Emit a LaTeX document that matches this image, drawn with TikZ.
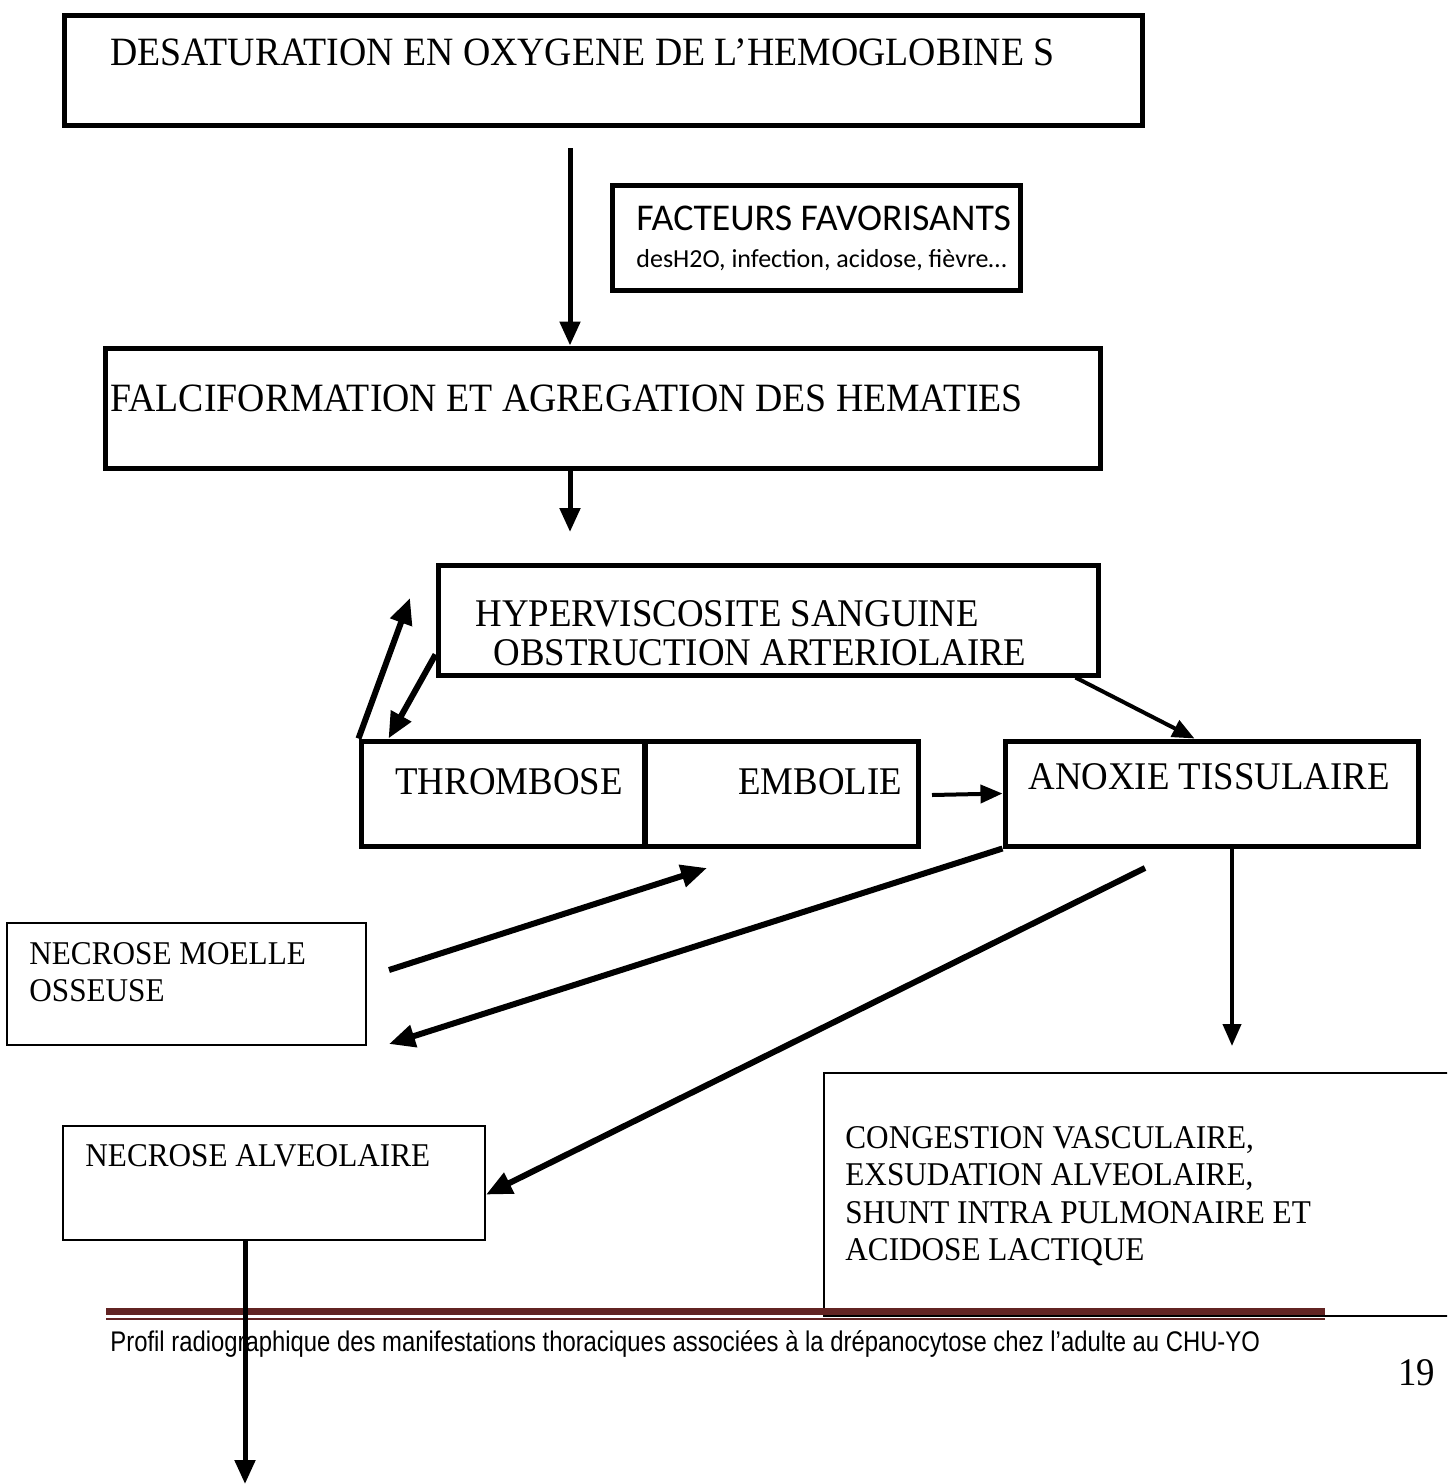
\documentclass[tikz,border=0pt]{standalone}
\usepackage{fontspec}
\setmainfont{Liberation Serif}
\newfontfamily\timesfont[FakeStretch=0.94]{Liberation Serif}
\newfontfamily\calibrifont{Carlito}
\newfontfamily\footerfont[FakeStretch=0.84]{Liberation Sans}
\usetikzlibrary{arrows.meta, positioning, calc}
\definecolor{footred}{HTML}{622423}

\tikzset{
  heavybox/.style={draw, line width=2.5pt, inner sep=0pt},
  lightbox/.style={draw, line width=1pt, inner sep=0pt},
  boxtext/.style={inner sep=0pt, anchor=west, align=left, font=\timesfont\fontsize{19.6}{19.5}\selectfont},
  titletext/.style={boxtext, font=\timesfont\fontsize{20.1}{22}\selectfont},
  smalltext/.style={boxtext, font=\timesfont\fontsize{16.6}{18.75}\selectfont},
  flow/.style={line width=2.5pt, -{Triangle[length=12pt, width=10pt]}},
  heavyflow/.style={line width=3pt, -{Triangle[length=13pt, width=11pt]}},
  thinflow/.style={line width=2pt, -{Triangle[length=11pt, width=9pt]}},
}

\begin{document}
\begin{tikzpicture}[x=0.5pt, y=-0.5pt]
  \clip (0,0) rectangle (1447,1484);
  \fill[white] (0,0) rectangle (1447,1484);

  \node[heavybox, minimum width=539pt, minimum height=55pt] (desat) at (603,70) {};
  \node[heavybox, minimum width=204pt, minimum height=52.5pt] (facteurs) at (816,237.5) {};
  \node[heavybox, minimum width=497.5pt, minimum height=60pt] (falci) at (602.5,408) {};
  \node[heavybox, minimum width=330pt, minimum height=55pt] (hyper) at (768,620) {};
  \node[heavybox, minimum width=142pt, minimum height=52.5pt] (thrombose) at (503,793.5) {};
  \node[heavybox, minimum width=137pt, minimum height=52.5pt] (embolie) at (781.5,793.5) {};
  \node[heavybox, minimum width=206.5pt, minimum height=52.5pt] (anoxie) at (1211.5,793.5) {};
  \node[lightbox, minimum width=179.5pt, minimum height=61pt] (moelle) at (186.5,984) {};
  \node[lightbox, minimum width=211pt, minimum height=57pt] (alveo) at (274,1183) {};
  \node[lightbox, minimum width=320pt, minimum height=121.5pt] (congestion) at (1144,1194.5) {};

  \node[titletext] (desattxt) at (110,52) {DESATURATION EN OXYGENE DE L’HEMOGLOBINE S};
  \node[boxtext, font=\calibrifont\fontsize{18.9}{21}\selectfont] (facttitle) at (636,218) {FACTEURS FAVORISANTS};
  \node[boxtext, font=\calibrifont\fontsize{13}{15}\selectfont] (factlist) at (636,260) {desH2O, infection, acidose, fièvre…};
  \node[titletext] (falcitxt) at (110,398) {FALCIFORMATION ET AGREGATION DES HEMATIES};
  \node[boxtext] (hypertxt) at (475,633) {HYPERVISCOSITE SANGUINE\\\hspace*{9pt}OBSTRUCTION ARTERIOLAIRE};
  \node[boxtext] (thrombtxt) at (395,782) {THROMBOSE};
  \node[boxtext] (emboltxt) at (738,782) {EMBOLIE};
  \node[boxtext] (anoxtxt) at (1028,777) {ANOXIE TISSULAIRE};
  \node[smalltext] (moelletxt) at (29,972) {NECROSE MOELLE\\OSSEUSE};
  \node[smalltext] (alveotxt) at (85,1156) {NECROSE ALVEOLAIRE};
  \node[smalltext] (congtxt) at (845,1196) {CONGESTION VASCULAIRE,\\EXSUDATION ALVEOLAIRE,\\SHUNT INTRA PULMONAIRE ET\\ACIDOSE LACTIQUE};

  \draw[footred, line width=3.5pt] (106,1311.5) -- (1325,1311.5);
  \draw[footred, line width=1pt] (106,1318.5) -- (1325,1318.5);
  \node[boxtext, font=\footerfont\fontsize{14.2}{16}\selectfont] (footer) at (110,1344) {Profil radiographique des manifestations thoraciques associées à la drépanocytose chez l’adulte au CHU-YO};
  \node[boxtext] (pagenum) at (1398,1373) {19};

  \coordinate (a1) at (570,148);
  \coordinate (a2) at (570,532);
  \coordinate (upend) at (410,598);
  \coordinate (embout) at (932,795);
  \coordinate (moelleout) at (389,970);
  \coordinate (embin) at (707,868);
  \coordinate (moellein) at (389,1044);
  \coordinate (alvstart) at (1145,868);
  \coordinate (congin) at (1232,1046);
  \coordinate (bottomend) at (245,1484);

  \draw[flow] (a1) -- (a1 |- falci.north);
  \draw[flow] (falci.south -| a2) -- (a2);
  \draw[heavyflow] (thrombose.north west) -- (upend);
  \draw[heavyflow] ($(hyper.north west)!0.8!(hyper.south west)$) -- ($(thrombose.north west)+(30,0)$);
  \draw[thinflow] ($(hyper.south east)+(-25,0)$) -- ($(anoxie.north west)+(192,0)$);
  \draw[thinflow] (embout) -- (anoxie.west);
  \draw[heavyflow] (moelleout) -- (embin);
  \draw[heavyflow] (anoxie.south west) -- (moellein);
  \draw[heavyflow] (alvstart) -- ($(alveo.north east)!0.6!(alveo.south east)$);
  \draw[thinflow] (anoxie.south -| congin) -- (congin);
  \draw[flow] (alveo.south -| bottomend) -- (bottomend);
\end{tikzpicture}
\end{document}
